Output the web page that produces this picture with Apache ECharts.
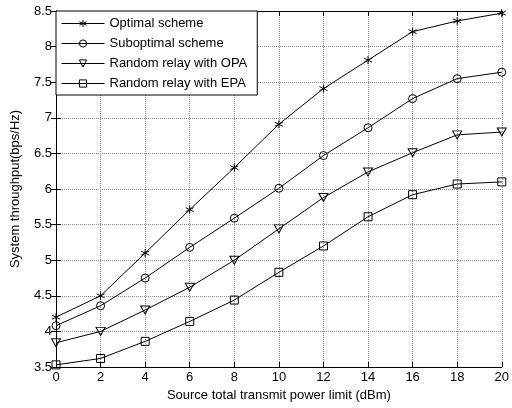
<!DOCTYPE html>
<html>
<head>
<meta charset="utf-8">
<script src="https://cdn.jsdelivr.net/npm/echarts@6/dist/echarts.min.js"></script>
<style>
html,body{margin:0;padding:0;background:#fff;}
#main{width:512px;height:408px;}
</style>
</head>
<body>
<div id="main"></div>
<script>
// x axis: source total transmit power limit (dBm)
var powers = [0, 2, 4, 6, 8, 10, 12, 14, 16, 18, 20];
var seriesNames = ["Optimal scheme", "Suboptimal scheme", "Random relay with OPA", "Random relay with EPA"];
var optimal = [4.2, 4.5, 5.1, 5.71, 6.3, 6.91, 7.41, 7.81, 8.21, 8.36, 8.47];
var suboptimal = [4.08, 4.36, 4.75, 5.18, 5.59, 6.01, 6.47, 6.86, 7.27, 7.55, 7.64];
var randomOPA = [3.84, 4.0, 4.3, 4.62, 5.0, 5.44, 5.88, 6.24, 6.51, 6.76, 6.8];
var randomEPA = [3.53, 3.62, 3.86, 4.14, 4.44, 4.83, 5.2, 5.61, 5.92, 6.07, 6.1];

var starPath = 'path://M5,0 L5,10 M0.67,2.5 L9.33,7.5 M0.67,7.5 L9.33,2.5';
var triPath = 'path://M0,0 L10,0 L5,9 Z';

function pairs(ys){
    var out = [];
    for (var i = 0; i < powers.length; i++) {
        out.push([powers[i], ys[i]]);
    }
    return out;
}

function mkSeries(name, ys, symbol, size){
    return {
        name: name,
        type: 'line',
        data: pairs(ys),
        symbol: symbol,
        symbolSize: size,
        showAllSymbol: true,
        lineStyle: {color: '#000', width: 1},
        itemStyle: {color: 'transparent', borderColor: '#000', borderWidth: 1},
        emphasis: {disabled: true},
        animation: false
    };
}

var font = 'Arial, "Liberation Sans", sans-serif';
var chart = echarts.init(document.getElementById('main'));

var option = {
    backgroundColor: '#fff',
    animation: false,
    grid: {left: 56, right: 4, top: 11, bottom: 41},
    legend: {
        orient: 'vertical',
        left: 56,
        top: 11,
        backgroundColor: '#fff',
        borderColor: '#000',
        borderWidth: 1,
        padding: [5, 10, 4, 5],
        itemWidth: 43,
        itemHeight: 9,
        itemGap: 5,
        itemStyle: {borderWidth: 1},
        lineStyle: {width: 1},
        textStyle: {fontSize: 13, color: '#000', fontFamily: font, lineHeight: 15},
        data: seriesNames
    },
    xAxis: [{
        type: 'value',
        min: 0, max: 20, interval: 2,
        name: 'Source total transmit power limit (dBm)',
        nameLocation: 'middle',
        nameGap: 19,
        nameTextStyle: {fontSize: 13, color: '#000', fontFamily: font},
        axisLine: {lineStyle: {color: '#000'}},
        axisTick: {inside: true, length: 5, lineStyle: {color: '#000'}},
        axisLabel: {fontSize: 13, color: '#000', fontFamily: font, margin: 4},
        splitLine: {show: true, lineStyle: {color: '#888', type: 'dotted'}}
    }, {
        type: 'value', position: 'top',
        min: 0, max: 20, interval: 2,
        axisLine: {lineStyle: {color: '#000'}},
        axisTick: {inside: true, length: 5, lineStyle: {color: '#000'}},
        axisLabel: {show: false},
        splitLine: {show: false}
    }],
    yAxis: [{
        type: 'value',
        min: 3.5, max: 8.5, interval: 0.5,
        name: 'System throughput(bps/Hz)',
        nameLocation: 'middle',
        nameGap: 34,
        nameTextStyle: {fontSize: 13, color: '#000', fontFamily: font},
        axisLine: {show: true, lineStyle: {color: '#000'}},
        axisTick: {show: true, inside: true, length: 5, lineStyle: {color: '#000'}},
        axisLabel: {fontSize: 13, color: '#000', fontFamily: font, margin: 4},
        splitLine: {show: true, lineStyle: {color: '#888', type: 'dotted'}}
    }, {
        type: 'value', position: 'right',
        min: 3.5, max: 8.5, interval: 0.5,
        axisLine: {show: true, lineStyle: {color: '#000'}},
        axisTick: {show: true, inside: true, length: 5, lineStyle: {color: '#000'}},
        axisLabel: {show: false},
        splitLine: {show: false}
    }],
    series: [
        mkSeries(seriesNames[0], optimal, starPath, 8),
        mkSeries(seriesNames[1], suboptimal, 'circle', 8),
        mkSeries(seriesNames[2], randomOPA, triPath, [9, 8]),
        mkSeries(seriesNames[3], randomEPA, 'rect', 8)
    ]
};
chart.setOption(option);
</script>
</body>
</html>
